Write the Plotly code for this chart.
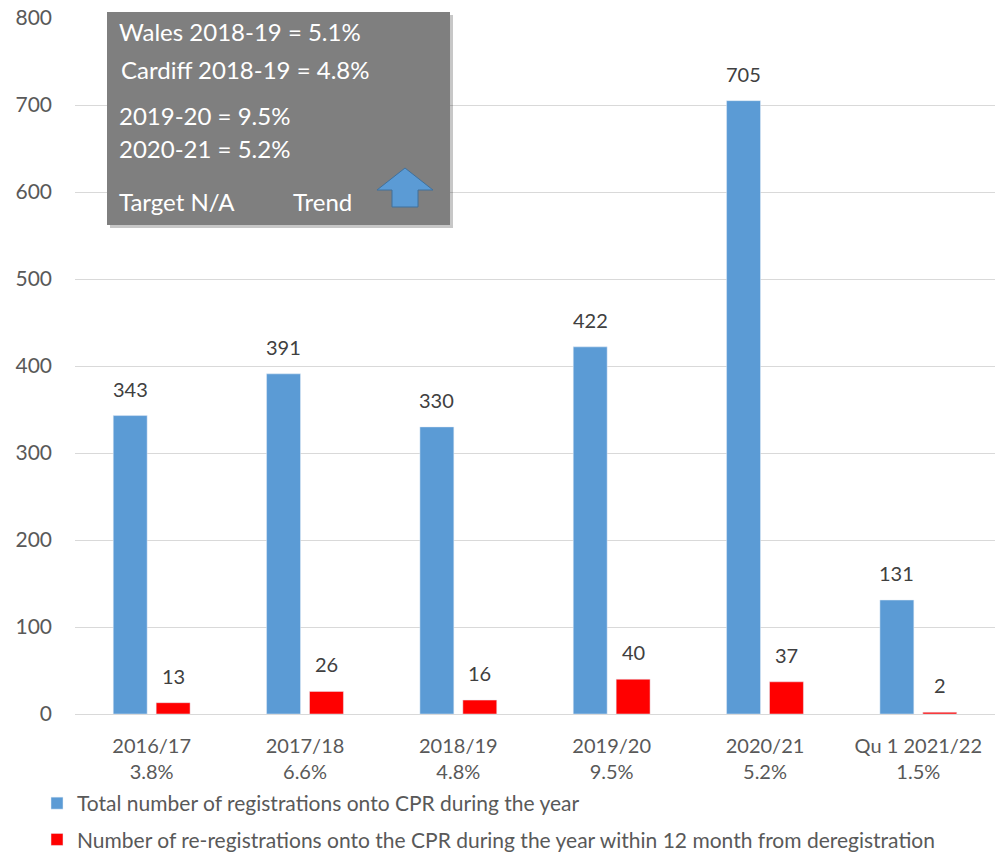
import plotly.graph_objects as go

# categories and values
years = ["2016/17", "2017/18", "2018/19", "2019/20", "2020/21", "Qu 1 2021/22"]
rates = ["3.8%", "6.6%", "4.8%", "9.5%", "5.2%", "1.5%"]
total_regs = [343, 391, 330, 422, 705, 131]
re_regs = [13, 26, 16, 40, 37, 2]

box_lines = ["Wales 2018-19 = 5.1%", "Cardiff 2018-19 = 4.8%",
             "2019-20 = 9.5%", "2020-21 = 5.2%"]

cats = [y + "<br>" + r for y, r in zip(years, rates)]

W, H = 995, 854
L, R, T, B = 75, 0, 18, 140
pw, ph = W - L - R, H - T - B


def px(x):
    return (x - L) / pw


def py(y):
    return (H - B - y) / ph


fig = go.Figure()
fig.add_trace(go.Bar(
    x=cats, y=total_regs, name="Total number of registrations onto CPR during the year",
    marker_color="#5b9bd5", legendgroup="a"))
fig.add_trace(go.Bar(
    x=cats, y=re_regs,
    name="Number of re-registrations onto the CPR during the year within 12 month from deregistration",
    marker_color="#ff0000", legendgroup="b"))

# value labels sit a bit above the bars, like the Excel original
for vals, shift in [(total_regs, -21.5), (re_regs, 21.5)]:
    for c, v in zip(cats, vals):
        fig.add_annotation(x=c, y=v, text=str(v), showarrow=False, xshift=shift,
                           yanchor="bottom", yshift=13,
                           font=dict(size=20, color="#404040"))

# grey info box with shadow
fig.add_shape(type="rect", xref="paper", yref="paper", x0=px(110), x1=px(453),
              y0=py(228), y1=py(15), fillcolor="rgba(0,0,0,0.22)", line_width=0, layer="above")
fig.add_shape(type="rect", xref="paper", yref="paper", x0=px(107), x1=px(450),
              y0=py(225), y1=py(12), fillcolor="#7f7f7f", line_width=0, layer="above")

for txt, xx, yy in zip(box_lines + ["Target N/A", "Trend"],
                       [117, 119, 117, 117, 117, 291],
                       [32, 69, 115, 149, 201, 201]):
    fig.add_annotation(text=txt, xref="paper", yref="paper", x=px(xx), y=py(yy),
                       xanchor="left", yanchor="middle", showarrow=False,
                       font=dict(size=24, color="white"))

# trend arrow
pts = [(405, 168), (433, 190), (418, 190), (418, 207), (392, 207), (392, 190), (377, 190)]
path = "M " + " L ".join(f"{px(a):.5f},{py(b):.5f}" for a, b in pts) + " Z"
fig.add_shape(type="path", xref="paper", yref="paper", path=path,
              fillcolor="#5b9bd5", line=dict(color="#41719c", width=1), layer="above")

fig.update_layout(
    width=W, height=H, margin=dict(l=L, r=R, t=T, b=B, autoexpand=False),
    paper_bgcolor="white", plot_bgcolor="white",
    font=dict(family="Lato", size=18, color="#595959"),
    barmode="group", bargap=0.44, bargroupgap=0.21,
    showlegend=True,
    legend=dict(xref="container", yref="container", x=37 / W, xanchor="left",
                y=1 - 783 / H, yanchor="top",
                orientation="v", tracegroupgap=6,
                font=dict(family="Lato", size=21, color="#595959"),
                bgcolor="rgba(0,0,0,0)"),
    xaxis=dict(showgrid=False, showline=True, linecolor="#d9d9d9", linewidth=1,
               ticks="", ticklabelstandoff=14,
               tickfont=dict(family="Lato", size=20, color="#595959")),
    yaxis=dict(range=[0, 800], dtick=100, showgrid=True, gridcolor="#d9d9d9",
               zeroline=False, showline=False, ticklabelstandoff=22,
               tickfont=dict(size=21, color="#595959")),
)

fig.write_html("out.html", config={"displayModeBar": False},
               post_script="document.body.style.margin = '0';")
